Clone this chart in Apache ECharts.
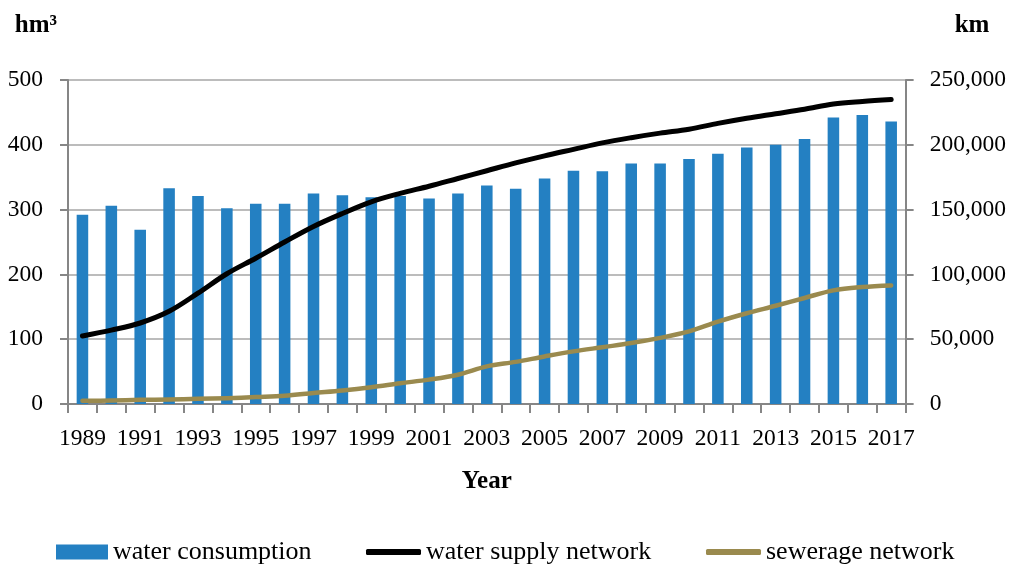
<!DOCTYPE html>
<html>
<head>
<meta charset="utf-8">
<script src="https://cdn.jsdelivr.net/npm/echarts@6/dist/echarts.min.js"></script>
<style>
  html, body { margin: 0; padding: 0; background: #ffffff; }
  #chart { width: 1009px; height: 565px; }
</style>
</head>
<body>
<div id="chart"></div>
<script>
// Years on the category axis
const years = ['1989','1990','1991','1992','1993','1994','1995','1996','1997','1998',
  '1999','2000','2001','2002','2003','2004','2005','2006','2007','2008',
  '2009','2010','2011','2012','2013','2014','2015','2016','2017'];

// Water consumption, hm³ (left axis)
const waterConsumption = [292, 306, 269, 333, 321, 302, 309, 309, 325, 322,
  319, 321, 317, 325, 337, 332, 348, 360, 359, 371,
  371, 378, 386, 396, 400, 409, 442, 446, 436];

// Water supply network length, km (right axis)
const waterSupplyNetwork = [52500, 57000, 62500, 71500, 85500, 100500, 112500, 125000, 137000, 147000,
  156000, 162500, 168000, 174000, 180000, 186000, 191500, 196500, 201500, 205500,
  209000, 212000, 216500, 220500, 224000, 227500, 231500, 233500, 235000];

// Sewerage network length, km (right axis)
const sewerageNetwork = [2500, 2700, 3200, 3500, 4000, 4500, 5400, 6400, 8500, 10500,
  13000, 16000, 18800, 22600, 29000, 32500, 36700, 40600, 43800, 47000,
  51000, 56000, 63500, 70000, 75800, 81800, 87700, 90300, 91500];

// Axis ranges and tick steps
const leftAxisMax = 500, leftAxisStep = 100;
const rightAxisMax = 250000, rightAxisStep = 50000;

const FONT = '"Palatino Linotype", "Book Antiqua", Palatino, "Liberation Serif", serif';
const AXIS_GREY = '#868686';
const GRID_GREY = '#a6a6a6';
const BLUE = '#2480c2';
const OLIVE = '#9a8a4e';

const AXIS_FONT = 23.5;
const NAME_FONT = 25;

const chart = echarts.init(document.getElementById('chart'), null, { renderer: 'canvas' });

const legendText = { fontFamily: FONT, fontSize: 26, color: '#000' };

chart.setOption({
  backgroundColor: '#ffffff',
  animation: false,
  textStyle: { fontFamily: FONT },
  grid: { left: 68, right: 103, top: 80, bottom: 161, containLabel: false },
  legend: [
    { data: [{ name: 'water consumption', icon: 'rect' }], left: 56, top: 539,
      itemWidth: 52, itemHeight: 15, itemGap: 0, textStyle: legendText, padding: 0 },
    { data: [{ name: 'water supply network', icon: 'roundRect' }], left: 366, top: 539,
      itemWidth: 55, itemHeight: 6, itemGap: 0, textStyle: legendText, padding: 0 },
    { data: [{ name: 'sewerage network', icon: 'roundRect' }], left: 706, top: 539,
      itemWidth: 55, itemHeight: 6, itemGap: 0, textStyle: legendText, padding: 0 }
  ],
  xAxis: {
    type: 'category',
    data: years,
    boundaryGap: true,
    name: 'Year',
    nameLocation: 'middle',
    nameGap: 65,
    nameTextStyle: { fontFamily: FONT, fontSize: NAME_FONT, fontWeight: 'bold', color: '#000' },
    axisLine: { lineStyle: { color: AXIS_GREY, width: 2 } },
    axisTick: { show: true, alignWithLabel: false, interval: 0, length: 9,
      lineStyle: { color: AXIS_GREY, width: 2 } },
    axisLabel: { interval: 1, margin: 23, fontFamily: FONT, fontSize: AXIS_FONT, color: '#000' },
    splitLine: { show: false }
  },
  yAxis: [
    {
      type: 'value',
      min: 0, max: leftAxisMax, interval: leftAxisStep,
      name: 'hm³',
      nameLocation: 'end',
      nameGap: 42,
      nameTextStyle: { fontFamily: FONT, fontSize: NAME_FONT, fontWeight: 'bold', color: '#000',
        align: 'right', padding: [0, 11, 0, 0] },
      axisLine: { show: true, lineStyle: { color: AXIS_GREY, width: 2 } },
      axisTick: { show: true, length: 8, lineStyle: { color: AXIS_GREY, width: 2 } },
      axisLabel: { margin: 25, fontFamily: FONT, fontSize: AXIS_FONT, color: '#000' },
      splitLine: { show: true, lineStyle: { color: GRID_GREY, width: 1.5 } }
    },
    {
      type: 'value',
      min: 0, max: rightAxisMax, interval: rightAxisStep,
      position: 'right',
      name: 'km',
      nameLocation: 'end',
      nameGap: 42,
      nameTextStyle: { fontFamily: FONT, fontSize: NAME_FONT, fontWeight: 'bold', color: '#000',
        align: 'left', padding: [0, 0, 0, 49] },
      axisLine: { show: true, lineStyle: { color: AXIS_GREY, width: 2 } },
      axisTick: { show: true, length: 8, lineStyle: { color: AXIS_GREY, width: 2 } },
      axisLabel: {
        margin: 24, fontFamily: FONT, fontSize: AXIS_FONT, color: '#000',
        formatter: v => v.toLocaleString('en-US')
      },
      splitLine: { show: false }
    }
  ],
  series: [
    {
      name: 'water consumption',
      type: 'bar',
      yAxisIndex: 0,
      data: waterConsumption,
      barWidth: '40%',
      itemStyle: { color: BLUE },
      z: 2
    },
    {
      name: 'water supply network',
      type: 'line',
      yAxisIndex: 1,
      data: waterSupplyNetwork,
      smooth: 0.35,
      symbol: 'none',
      lineStyle: { color: '#000', width: 5, cap: 'round', join: 'round' },
      itemStyle: { color: '#000' },
      z: 4
    },
    {
      name: 'sewerage network',
      type: 'line',
      yAxisIndex: 1,
      data: sewerageNetwork,
      smooth: 0.35,
      symbol: 'none',
      lineStyle: { color: OLIVE, width: 4.5, cap: 'round', join: 'round' },
      itemStyle: { color: OLIVE },
      z: 3
    }
  ]
});
</script>
</body>
</html>
